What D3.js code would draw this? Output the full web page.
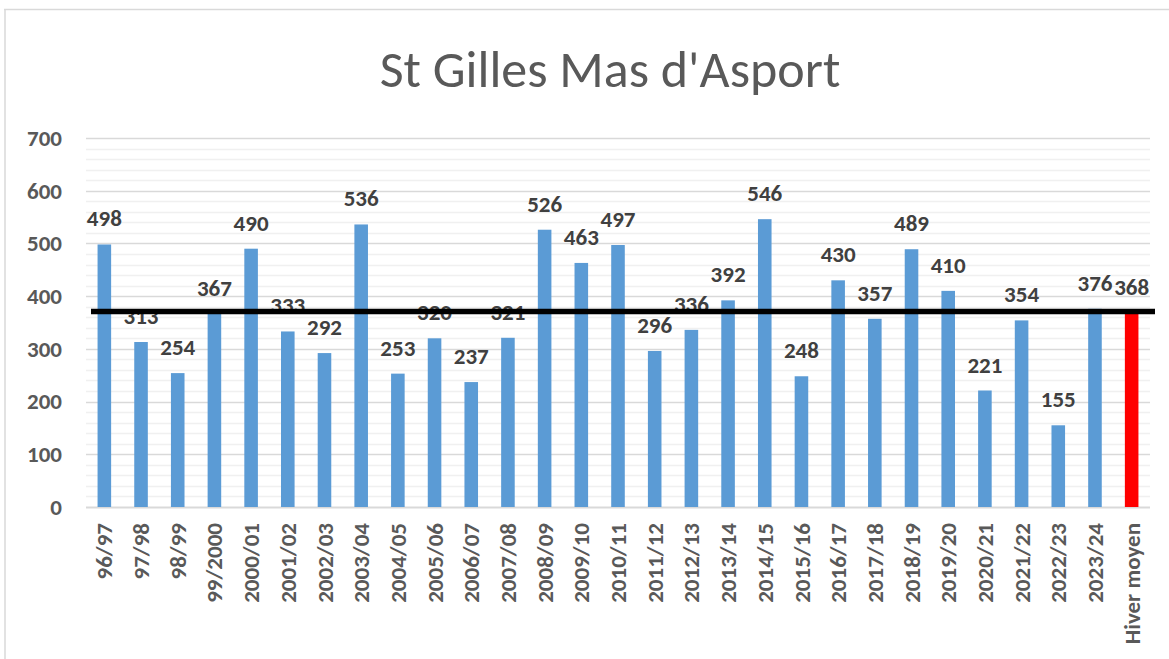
<!DOCTYPE html>
<html>
<head>
<meta charset="utf-8">
<script src="https://cdn.jsdelivr.net/npm/d3@7"></script>
<style>
  body { margin: 0; background: #fff; }
  text { font-family: Calibri, Carlito, "Open Sans", "Liberation Sans", sans-serif; }
</style>
</head>
<body>
<div id="chart"></div>
<script>
// Winters and their values
const seasons = ["96/97", "97/98", "98/99", "99/2000", "2000/01", "2001/02", "2002/03", "2003/04",
  "2004/05", "2005/06", "2006/07", "2007/08", "2008/09", "2009/10", "2010/11", "2011/12",
  "2012/13", "2013/14", "2014/15", "2015/16", "2016/17", "2017/18", "2018/19", "2019/20",
  "2020/21", "2021/22", "2022/23", "2023/24", "Hiver moyen"];
const values = [498, 313, 254, 367, 490, 333, 292, 536, 253, 320, 237, 321, 526, 463, 497, 296,
  336, 392, 546, 248, 430, 357, 489, 410, 221, 354, 155, 376, 368];
const yTicks = [0, 100, 200, 300, 400, 500, 600, 700];
const averageLine = 371;
const title = "St Gilles Mas d'Asport";

const width = 1169;
const height = 659;
const margin = { top: 138, right: 19, bottom: 152, left: 86 };

const svg = d3.select("#chart")
  .append("svg")
  .attr("width", width)
  .attr("height", height);

// chart frame
svg.append("line").attr("x1", 4).attr("x2", width).attr("y1", 9.5).attr("y2", 9.5)
  .attr("stroke", "#d9d9d9").attr("stroke-width", 1.5);
svg.append("line").attr("x1", 5).attr("x2", 5).attr("y1", 9).attr("y2", height)
  .attr("stroke", "#d9d9d9").attr("stroke-width", 1.5);

const x = d3.scaleBand()
  .domain(seasons)
  .range([margin.left, width - margin.right])
  .paddingInner(0.63)
  .paddingOuter(0.315);

const y = d3.scaleLinear()
  .domain([0, 700])
  .range([height - margin.bottom, margin.top]);

// minor gridlines every 20
svg.append("g")
  .selectAll("line")
  .data(d3.range(0, 701, 20).filter(v => v % 100 !== 0))
  .enter().append("line")
  .attr("x1", margin.left).attr("x2", width - margin.right)
  .attr("y1", d => Math.round(y(d)) + 0.5).attr("y2", d => Math.round(y(d)) + 0.5)
  .attr("stroke", "#f0f0f0").attr("stroke-width", 1.5);

// major gridlines
svg.append("g")
  .selectAll("line")
  .data(yTicks)
  .enter().append("line")
  .attr("x1", margin.left).attr("x2", width - margin.right)
  .attr("y1", d => Math.round(y(d)) + 0.5).attr("y2", d => Math.round(y(d)) + 0.5)
  .attr("stroke", "#d9d9d9").attr("stroke-width", d => d === 0 ? 2 : 1.5);

// y axis labels
const yAxis = d3.axisLeft(y).tickValues(yTicks).tickSize(0).tickPadding(24);
svg.append("g")
  .attr("transform", `translate(${margin.left},0)`)
  .call(yAxis)
  .call(g => g.select(".domain").remove())
  .selectAll("text")
  .attr("font-size", 23)
  .attr("font-weight", "bold")
  .attr("fill", "#595959");

// x axis labels, rotated
const xAxis = d3.axisBottom(x).tickSize(0).tickPadding(0);
svg.append("g")
  .attr("transform", `translate(0,${height - margin.bottom})`)
  .call(xAxis)
  .call(g => g.select(".domain").remove())
  .selectAll("text")
  .attr("font-size", 23)
  .attr("font-weight", "bold")
  .attr("fill", "#595959")
  .attr("text-anchor", "end")
  .attr("dy", "0.35em")
  .attr("transform", "translate(0,16) rotate(-90)")
  .attr("x", 0)
  .attr("y", 0);

// bars
svg.append("g")
  .selectAll("rect")
  .data(values)
  .enter().append("rect")
  .attr("x", (d, i) => x(seasons[i]))
  .attr("y", d => y(d))
  .attr("width", x.bandwidth())
  .attr("height", d => y(0) - y(d))
  .attr("fill", (d, i) => i === values.length - 1 ? "#ff0000" : "#5b9bd5");

// value labels
svg.append("g")
  .selectAll("text")
  .data(values)
  .enter().append("text")
  .attr("x", (d, i) => x(seasons[i]) + x.bandwidth() / 2)
  .attr("y", d => y(d) - 18)
  .attr("text-anchor", "middle")
  .attr("font-size", 23)
  .attr("font-weight", "bold")
  .attr("fill", "#404040")
  .text(d => d);

// average line drawn on top
svg.append("line")
  .attr("x1", 91).attr("x2", 1155)
  .attr("y1", y(averageLine)).attr("y2", y(averageLine))
  .attr("stroke", "#000").attr("stroke-width", 5.5);

// title
svg.append("text")
  .attr("x", 610)
  .attr("y", 87)
  .attr("text-anchor", "middle")
  .attr("font-size", 52)
  .attr("font-weight", 300)
  .attr("fill", "#595959")
  .text(title);
</script>
</body>
</html>
